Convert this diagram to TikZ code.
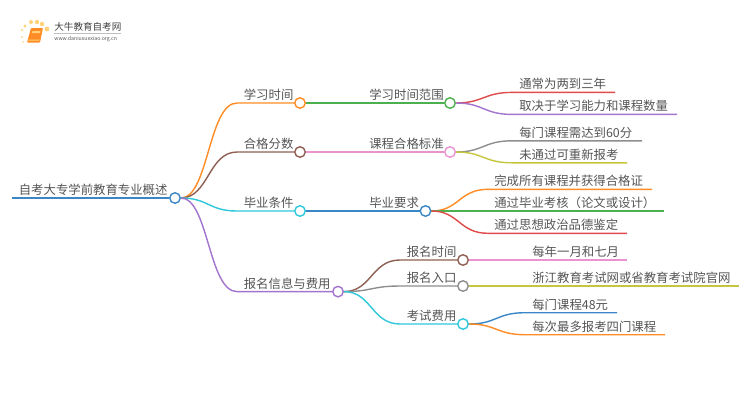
\documentclass[tikz,border=0pt]{standalone}
\usepackage{fontspec}
\setmainfont{Noto Sans CJK SC}[BoldFont={Noto Sans CJK SC}]
\usepackage{xcolor}
\definecolor{lineblue}{HTML}{3B86C6}
\definecolor{lineorange}{HTML}{FF8C24}
\definecolor{linebrown}{HTML}{8E5F52}
\definecolor{linecyan}{HTML}{2EC8DA}
\definecolor{linepurple}{HTML}{A274CE}
\definecolor{linegreen}{HTML}{4DB04F}
\definecolor{linepink}{HTML}{EA93D2}
\definecolor{linered}{HTML}{E04B4B}
\definecolor{linegray}{HTML}{8E8E8E}
\definecolor{lineolive}{HTML}{C6C63C}
\definecolor{labelgray}{HTML}{555555}
\definecolor{logodot}{HTML}{FFD27A}
\tikzset{
  knot/.style={circle, draw, fill=white, line width=0.8pt, minimum size=0.21cm, inner sep=0pt},
  link/.style={line width=0.8pt},
  label/.style={anchor=base west, inner sep=0pt, yshift=-0.28pt, text=labelgray, font=\fontsize{7.05pt}{8pt}\selectfont}
}
\begin{document}
\begin{tikzpicture}[x=0.02cm,y=-0.02cm]
        \useasboundingbox (0,0) rectangle (750,410);
        %LOGO
        \foreach \px/\py/\pr in {25/26/1.7,31/22/2,37/22/2.2,42/24/2.2,47/29/2.4,22/30/1.2,22/37/1,23/42/0.8}
            \fill[logodot] (\px,\py) circle (\pr);
        \fill[lineorange, rounded corners=0.5pt] (31,28) -- (43,28) -- (40,42.5) -- (27,42.5) -- cycle;
        \fill[logodot] (32.5,31) -- (40.5,31) -- (40,33) -- (32,33) -- cycle;
        \fill[logodot] (28.5,39.5) -- (39.5,39.5) -- (39.2,40.5) -- (28.2,40.5) -- cycle;
        \node[label, font=\fontsize{5.45pt}{6pt}\selectfont, text=black!75] (logotitle) at (54,30) {大牛教育自考网};
        \draw[lightgray, line width=0.3pt] (54,33.5) -- (121,33.5);
        \node[label, font=\fontsize{2.95pt}{4pt}\selectfont, text=labelgray] (logourl) at (54,40) {www.daniuxuexiao.org.cn};
        %KOORDINAT
        \coordinate (rootstart) at (12,198);
        \coordinate (timeA) at (237,103);
        \coordinate (scoreA) at (237,152);
        \coordinate (gradA) at (237,211);
        \coordinate (infoA) at (237,291.6);
        \coordinate (spanA) at (512,92.4);
        \coordinate (spanAend) at (615,92.4);
        \coordinate (spanB) at (512,114.4);
        \coordinate (spanBend) at (677,114.4);
        \coordinate (passA) at (512,140.8);
        \coordinate (passAend) at (642,140.8);
        \coordinate (passB) at (512,162.8);
        \coordinate (passBend) at (627,162.8);
        \coordinate (needA) at (488,189.3);
        \coordinate (needAend) at (652,189.3);
        \coordinate (needBend) at (664,211);
        \coordinate (needC) at (488,233.3);
        \coordinate (needCend) at (627,233.3);
        \coordinate (applyA) at (400,260);
        \coordinate (applyAend) at (627,260);
        \coordinate (applyB) at (400,286);
        \coordinate (applyBend) at (739,286);
        \coordinate (applyC) at (400,324);
        \coordinate (feeA) at (525,312.7);
        \coordinate (feeAend) at (617,312.7);
        \coordinate (feeB) at (525,334.7);
        \coordinate (feeBend) at (665,334.7);
        %SIMPUL
        \node[knot, draw=lineblue] (root) at (175,198) {};
        \node[knot, draw=lineorange] (time) at (300,103) {};
        \node[knot, draw=linebrown] (score) at (300,152) {};
        \node[knot, draw=linecyan] (grad) at (300,211) {};
        \node[knot, draw=linepurple] (info) at (338,291.6) {};
        \node[knot, draw=linegreen] (span) at (450,103) {};
        \node[knot, draw=linepink] (pass) at (450,152) {};
        \node[knot, draw=lineblue] (need) at (425.5,211) {};
        \node[knot, draw=linebrown] (applytime) at (463,260) {};
        \node[knot, draw=linegray] (applysite) at (463,286) {};
        \node[knot, draw=linecyan] (fee) at (463,324) {};
        %CABANG UTAMA
        \draw[line width=1.1pt, lineblue] (rootstart) -- (root);
        \draw[link, lineorange] (root) .. controls (208.5,198) and (208.5,103) .. (timeA) -- (time);
        \draw[link, linebrown] (root) .. controls (208.5,198) and (208.5,152) .. (scoreA) -- (score);
        \draw[link, linecyan] (root) .. controls (208.5,198) and (208.5,211) .. (gradA) -- (grad);
        \draw[link, linepurple] (root) .. controls (208.5,198) and (208.5,291.6) .. (infoA) -- (info);
        %CABANG KEDUA
        \draw[link, linegreen] (time) -- (span);
        \draw[link, linepink] (score) -- (pass);
        \draw[link, lineblue] (grad) -- (need);
        \draw[link, linebrown] (info) .. controls (371.5,291.6) and (371.5,260) .. (applyA) -- (applytime);
        \draw[link, linegray] (info) .. controls (371.5,291.6) and (371.5,286) .. (applyB) -- (applysite);
        \draw[link, linecyan] (info) .. controls (371.5,291.6) and (371.5,324) .. (applyC) -- (fee);
        %DAUN
        \draw[link, linered] (span) .. controls (483.5,103) and (483.5,92.4) .. (spanA) -- (spanAend);
        \draw[link, linepurple] (span) .. controls (483.5,103) and (483.5,114.4) .. (spanB) -- (spanBend);
        \draw[link, linegray] (pass) .. controls (483.5,152) and (483.5,140.8) .. (passA) -- (passAend);
        \draw[link, lineolive] (pass) .. controls (483.5,152) and (483.5,162.8) .. (passB) -- (passBend);
        \draw[link, lineorange] (need) .. controls (459,211) and (459,189.3) .. (needA) -- (needAend);
        \draw[link, linegreen] (need) -- (needBend);
        \draw[link, linered] (need) .. controls (459,211) and (459,233.3) .. (needC) -- (needCend);
        \draw[link, linepink] (applytime) -- (applyAend);
        \draw[link, lineolive] (applysite) -- (applyBend);
        \draw[link, lineblue] (fee) .. controls (496.5,324) and (496.5,312.7) .. (feeA) -- (feeAend);
        \draw[link, lineorange] (fee) .. controls (496.5,324) and (496.5,334.7) .. (feeB) -- (feeBend);
        %TEKS
        \node[label] (roottext) at (18.5,194) {自考大专学前教育专业概述};
        \node[label] (timetext) at (243.5,99) {学习时间};
        \node[label] (scoretext) at (243.5,148) {合格分数};
        \node[label] (gradtext) at (243.5,207) {毕业条件};
        \node[label] (infotext) at (243.5,287.5) {报名信息与费用};
        \node[label] (spantext) at (369,99) {学习时间范围};
        \node[label] (passtext) at (369,148) {课程合格标准};
        \node[label] (needtext) at (369,207) {毕业要求};
        \node[label] (spanAtext) at (519,88.5) {通常为两到三年};
        \node[label] (spanBtext) at (519,110.5) {取决于学习能力和课程数量};
        \node[label] (passAtext) at (519,136.8) {每门课程需达到60分};
        \node[label] (passBtext) at (519,158.8) {未通过可重新报考};
        \node[label] (needAtext) at (494,185.3) {完成所有课程并获得合格证};
        \node[label] (needBtext) at (494,207) {通过毕业考核（论文或设计）};
        \node[label] (needCtext) at (494,229.3) {通过思想政治品德鉴定};
        \node[label] (applytimetext) at (406.5,256) {报名时间};
        \node[label] (applysitetext) at (406.5,282) {报名入口};
        \node[label] (feetext) at (406.5,320) {考试费用};
        \node[label] (applyAtext) at (532,256) {每年一月和七月};
        \node[label] (applyBtext) at (532,282) {浙江教育考试网或省教育考试院官网};
        \node[label] (feeAtext) at (532,308.7) {每门课程48元};
        \node[label] (feeBtext) at (532,330.7) {每次最多报考四门课程};
    \end{tikzpicture}
\end{document}
